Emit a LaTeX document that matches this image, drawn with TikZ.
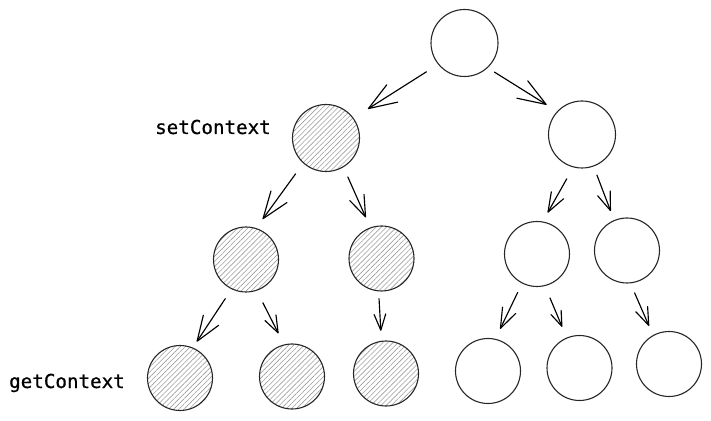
\documentclass[tikz,border=0pt]{standalone}
\usepackage{fontspec}
\newfontfamily\codefont[FakeBold=0.7]{DejaVu Sans Mono}
\usetikzlibrary{arrows.meta,patterns.meta}
\begin{document}
\begin{tikzpicture}[x=1pt,y=1pt,
  circ/.style={circle,draw=black!85,line width=1.1pt,inner sep=0pt,minimum size=#1},
  circ/.default=65pt,
  hatched/.style={pattern={Lines[angle=45,distance=3.6pt,line width=0.6pt]},pattern color=black!38},
  arr/.style={line width=1.15pt,line cap=round,-{Straight Barb[length=0.94pt,width=0.684pt,scale=#1,line cap=round,line join=round]}},
  lbl/.style={font=\codefont\fontsize{19.2}{23}\selectfont,inner sep=0pt,anchor=base west}
]
\useasboundingbox (0,0) rectangle (711,420);
% nodes
\node[circ=67pt] (root) at (464.5,377) {};
\node[circ=67pt,hatched] (sc) at (326,282) {};
\node[circ=67pt] (r1) at (582,285.5) {};
\node[circ,hatched] (a2) at (246,160.5) {};
\node[circ,hatched] (b2) at (381.5,161.5) {};
\node[circ] (c2) at (537,166) {};
\node[circ] (d2) at (627,169.5) {};
\node[circ,hatched] (a3) at (180,42) {};
\node[circ,hatched] (b3) at (292,43.5) {};
\node[circ,hatched] (c3) at (386,46.5) {};
\node[circ] (d3) at (488,49) {};
\node[circ] (e3) at (579.5,52) {};
\node[circ] (f3) at (669,56) {};
% labels
\node[lbl] (setlbl) at (155,286) {setContext};
\node[lbl] (getlbl) at (9,32) {getContext};
% connectors
\draw[arr=30,shorten <=13.7pt,shorten >=17.3pt] (root.219.4) -- (sc.36.2);
\draw[arr=30,shorten <=7.9pt,shorten >=12.3pt] (root.313.5) -- (r1.137.2);
\draw[arr=28.8,shorten <=13.3pt,shorten >=11pt] (sc.228.5) -- (a2.72.6);
\draw[arr=22.6,shorten <=10.9pt,shorten >=10.9pt] (sc.301.2) -- (b2.110.9);
\draw[arr=20.6,shorten <=13.1pt,shorten >=10.1pt] (r1.255.2) -- (c2.80.5);
\draw[arr=19.6,shorten <=9.2pt,shorten >=9.6pt] (r1.290.3) -- (d2.113.8);
\draw[arr=26.8,shorten <=11.3pt,shorten >=7pt] (a2.244.3) -- (a3.67.4);
\draw[arr=18,shorten <=13.5pt,shorten >=12.4pt] (a2.289) -- (b3.104.2);
\draw[arr=17,shorten <=7.3pt,shorten >=10pt] (b2.265) -- (c3.98);
\draw[arr=21.3,shorten <=10pt,shorten >=11pt] (c2.243.4) -- (d3.77.9);
\draw[arr=16.1,shorten <=12.9pt,shorten >=11.6pt] (c2.284) -- (e3.113.1);
\draw[arr=18.8,shorten <=10.3pt,shorten >=10pt] (d2.276.7) -- (f3.119.6);
\end{tikzpicture}
\end{document}
